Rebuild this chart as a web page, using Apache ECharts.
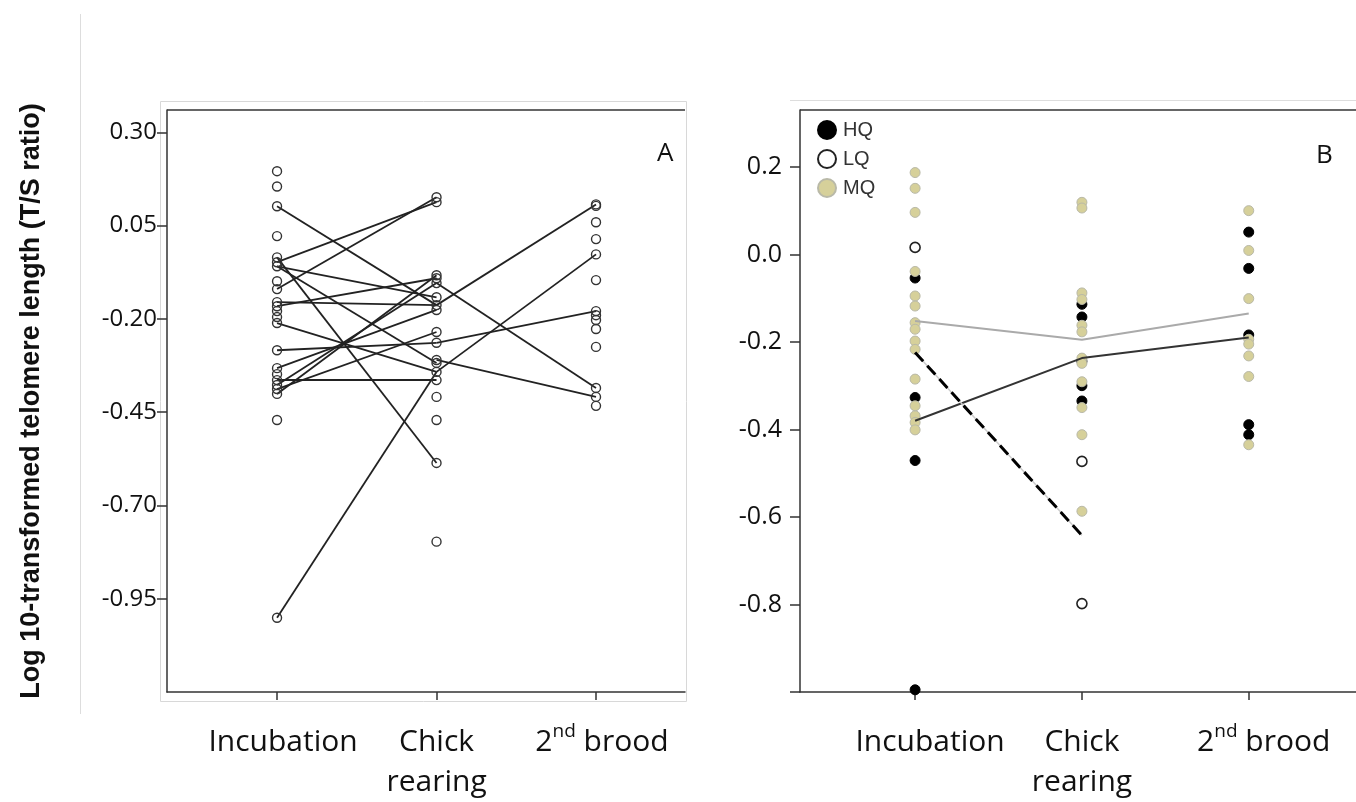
<!DOCTYPE html>
<html><head><meta charset="utf-8">
<script src="https://cdn.jsdelivr.net/npm/echarts@6/dist/echarts.min.js"></script>
<style>html,body{margin:0;padding:0;background:#fff}#c{width:1356px;height:802px}</style>
</head><body><div id="c"></div>
<script>
// ---------- shared ----------
const stageLabels = ['Incubation', 'Chick\nrearing', '2nd brood'];
const stagePos = [1, 2, 3];
const yTicksA = [0.30, 0.05, -0.20, -0.45, -0.70, -0.95];
const yTicksB = [0.2, 0.0, -0.2, -0.4, -0.6, -0.8];

// ---------- panel A: individual values ----------
const incubA = [0.196, 0.155, 0.102, 0.022, -0.035, -0.048, -0.059, -0.099, -0.120, -0.155, -0.166, -0.179, -0.195, -0.211, -0.284, -0.332, -0.348, -0.364, -0.377, -0.388, -0.401, -0.471, -1.001];
const chickA = [0.126, 0.113, -0.083, -0.091, -0.104, -0.142, -0.163, -0.176, -0.235, -0.264, -0.310, -0.318, -0.342, -0.364, -0.409, -0.471, -0.586, -0.797];
const broodA = [0.107, 0.103, 0.059, 0.014, -0.027, -0.096, -0.179, -0.190, -0.203, -0.227, -0.275, -0.385, -0.409, -0.433];
// links: [index in incubA, index in chickA]
const incToChickA = [[2, 6], [5, 1], [8, 0], [6, 5], [4, 16], [6, 11], [9, 6], [10, 3], [13, 12], [14, 9], [15, 7], [17, 13], [18, 4], [19, 8], [20, 2], [22, 12]];
// links: [index in chickA, index in broodA]
const chickToBroodA = [[6, 0], [12, 4], [9, 6], [4, 11], [10, 12]];

// ---------- panel B: values by quality group ----------
const hqInc = [-0.054, -0.327, -0.471, -0.995];
const hqChick = [-0.114, -0.143, -0.244, -0.300, -0.335];
const hqBrood = [0.051, -0.032, -0.184, -0.389, -0.412];
const lqInc = [0.016];
const lqChick = [-0.473, -0.798];
const lqBrood = [];
const mqInc = [0.187, 0.151, 0.096, -0.039, -0.095, -0.118, -0.156, -0.171, -0.198, -0.217, -0.285, -0.346, -0.369, -0.384, -0.401];
const mqChick = [0.119, 0.106, -0.088, -0.103, -0.162, -0.177, -0.237, -0.249, -0.291, -0.350, -0.412, -0.587];
const mqBrood = [0.100, 0.009, -0.101, -0.194, -0.205, -0.232, -0.279, -0.435];
const meanHQ = [-0.380, -0.237, -0.190];
const meanMQ = [-0.152, -0.195, -0.135];
const meanLQ = [-0.224, -0.642];

// ---------- build ----------
function pts(arrs) {
  const out = [];
  arrs.forEach((a, s) => a.forEach(v => out.push([stagePos[s], v])));
  return out;
}
function linkCoords(links, fromArr, toArr, fromPos, toPos) {
  return links.map(([i, j]) => ({ coords: [[fromPos, fromArr[i]], [toPos, toArr[j]]] }));
}
function meanLine(arr) { return arr.map((v, i) => [stagePos[i], v]); }

const labelFont = 'Open Sans';
function makeXLabelFmt(tag) {
  return function (v) {
    const i = stagePos.indexOf(v);
    if (i < 0) return '';
    if (i === 0) return '{' + tag + '|' + stageLabels[0] + '}';
    if (i === 2) return '{' + tag + '|2}{sup|nd}{t| brood}';
    return stageLabels[i];
  };
}
function makeRich(shift) {
  return {
    sh: { padding: [0, 0, 0, shift] },
    t: {},
    sup: { fontSize: 19, fontFamily: labelFont, color: '#111', verticalAlign: 'top', padding: [0, 0, 14, 0] }
  };
}

function xAxisCfg(gi, min, max, shift) {
  return {
    type: 'value', gridIndex: gi, min: min, max: max,
    axisLine: { show: true, onZero: false, lineStyle: { color: '#333', width: 1.5 } },
    axisTick: { show: true, customValues: stagePos, length: 8, lineStyle: { color: '#333', width: 1.5 } },
    axisLabel: { customValues: stagePos, formatter: makeXLabelFmt('sh'), rich: makeRich(shift), margin: 30,
      fontSize: 30, fontFamily: labelFont, color: '#111', lineHeight: 40 },
    splitLine: { show: false }
  };
}

const chart = echarts.init(document.getElementById('c'), null, { renderer: 'canvas' });
const option = {
  animation: false,
  backgroundColor: '#fff',
  grid: [
    { left: 167, top: 110, width: 518, height: 582, show: false },
    { left: 800, top: 110, width: 560, height: 583, show: false }
  ],
  xAxis: [xAxisCfg(0, 0.31, 3.558, 12), xAxisCfg(1, 0.31, 3.643, 30)],
  yAxis: [
    {
      type: 'value', gridIndex: 0, min: -1.2, max: 0.36,
      name: 'Log 10-transformed telomere length (T/S ratio)', nameLocation: 'middle', nameGap: 122,
      nameTextStyle: { fontFamily: 'Liberation Sans', fontWeight: 'bold', fontSize: 27, color: '#111' },
      axisLine: { show: true, onZero: false, lineStyle: { color: '#333', width: 1.5 } },
      axisTick: { show: true, customValues: yTicksA, length: 10, lineStyle: { color: '#333', width: 1.5 } },
      axisLabel: { customValues: yTicksA, formatter: v => v.toFixed(2), margin: 10, fontSize: 24, fontFamily: labelFont, color: '#111' },
      splitLine: { show: false }
    },
    {
      type: 'value', gridIndex: 1, min: -1.0, max: 0.33,
      axisLine: { show: true, onZero: false, lineStyle: { color: '#333', width: 1.5 } },
      axisTick: { show: true, customValues: yTicksB.concat([-1.0]), length: 10, lineStyle: { color: '#333', width: 1.5 } },
      axisLabel: { customValues: yTicksB, formatter: v => v.toFixed(1), margin: 18, fontSize: 25, fontFamily: labelFont, color: '#111' },
      splitLine: { show: false }
    }
  ],
  title: [
    { text: 'A', left: 652, top: 136, textStyle: { fontFamily: labelFont, fontSize: 26, fontWeight: 'normal', color: '#111' } },
    { text: 'B', left: 1311, top: 138, textStyle: { fontFamily: labelFont, fontSize: 26, fontWeight: 'normal', color: '#111' } }
  ],
  legend: {
    data: ['HQ', 'LQ', 'MQ'], orient: 'vertical', left: 817, top: 120, itemGap: 9, padding: 0,
    itemWidth: 18, itemHeight: 18, icon: 'circle',
    textStyle: { fontFamily: 'Liberation Sans', fontSize: 20, color: '#333', padding: [0, 0, 0, 2] }
  },
  series: [
    // panel A links
    { type: 'lines', coordinateSystem: 'cartesian2d', xAxisIndex: 0, yAxisIndex: 0, z: 2,
      lineStyle: { color: '#222', width: 1.8, opacity: 1 },
      data: linkCoords(incToChickA, incubA, chickA, 1, 2).concat(linkCoords(chickToBroodA, chickA, broodA, 2, 3)) },
    // panel A points
    { type: 'scatter', xAxisIndex: 0, yAxisIndex: 0, z: 3, symbol: 'circle', symbolSize: 9,
      itemStyle: { color: 'rgba(255,255,255,0)', borderColor: '#333', borderWidth: 1.4, opacity: 1 },
      data: pts([incubA, chickA, broodA]) },
    // panel B points
    { name: 'HQ', type: 'scatter', xAxisIndex: 1, yAxisIndex: 1, z: 3, symbolSize: 10,
      itemStyle: { color: '#000', borderColor: '#000', borderWidth: 1, opacity: 1 }, data: pts([hqInc, hqChick, hqBrood]) },
    { name: 'LQ', type: 'scatter', xAxisIndex: 1, yAxisIndex: 1, z: 3, symbolSize: 10,
      itemStyle: { color: '#fff', borderColor: '#222', borderWidth: 1.6, opacity: 1 }, data: pts([lqInc, lqChick, lqBrood]) },
    { name: 'MQ', type: 'scatter', xAxisIndex: 1, yAxisIndex: 1, z: 3, symbolSize: 10,
      itemStyle: { color: '#d6d09a', borderColor: '#b9b9a8', borderWidth: 1, opacity: 1 }, data: pts([mqInc, mqChick, mqBrood]) },
    // panel B mean lines
    { type: 'line', xAxisIndex: 1, yAxisIndex: 1, z: 4, symbol: 'none', lineStyle: { color: '#aaaaaa', width: 2 }, data: meanLine(meanMQ) },
    { type: 'line', xAxisIndex: 1, yAxisIndex: 1, z: 4, symbol: 'none', lineStyle: { color: '#333333', width: 2 }, data: meanLine(meanHQ) },
    { type: 'line', xAxisIndex: 1, yAxisIndex: 1, z: 4, symbol: 'none', lineStyle: { color: '#cccccc', width: 1.5 }, data: meanLine(meanLQ) },
    { type: 'line', xAxisIndex: 1, yAxisIndex: 1, z: 5, symbol: 'none', lineStyle: { color: '#000', width: 3, type: [12, 6] }, data: meanLine(meanLQ) }
  ],
  graphic: [
    { type: 'line', shape: { x1: 80.5, y1: 14, x2: 80.5, y2: 714 }, style: { stroke: '#dddddd', lineWidth: 1 }, silent: true },
    { type: 'rect', shape: { x: 160.5, y: 101.5, width: 526, height: 600 }, style: { fill: 'none', stroke: '#d8d8d8', lineWidth: 1 }, silent: true, z: -1 },
    { type: 'line', shape: { x1: 167, y1: 110, x2: 685, y2: 110 }, style: { stroke: '#333', lineWidth: 1.5 }, silent: true },
    { type: 'line', shape: { x1: 800, y1: 110, x2: 1356, y2: 110 }, style: { stroke: '#333', lineWidth: 1.5 }, silent: true },
    { type: 'line', shape: { x1: 790, y1: 100.5, x2: 1356, y2: 100.5 }, style: { stroke: '#dddddd', lineWidth: 1 }, silent: true }
  ]
};
chart.setOption(option);
</script></body></html>
